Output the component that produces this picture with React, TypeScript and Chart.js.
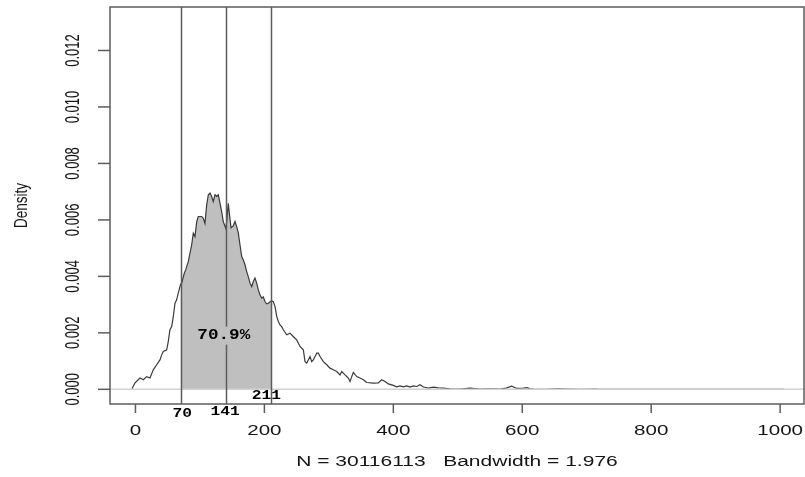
import { useEffect, useRef } from 'react';
import { Chart, registerables } from 'chart.js';

Chart.register(...registerables);

// Kernel density estimate (value -> density)
const DENSITY_X = [
  -6, -5, -1, 7, 12.1, 17.4, 22.5, 27.6, 32.9, 38, 40.7,
  43.1, 48.4, 50.9, 53.5, 56.2, 58.7, 61.3, 63.9, 66.4, 70,
  71.7, 75.7, 77.9, 81.9, 87.2, 89.7, 92.3, 95, 97.4, 102.7,
  105.2, 107.8, 110.5, 113, 115.6, 118.2, 120.7, 123.4, 126, 128.5,
  131.1, 133.7, 136.2, 140, 141.5, 144, 145.9, 148.2, 151.7, 154.4,
  157, 159.5, 162.1, 164.8, 167.3, 169.9, 172.5, 175, 177.7, 180.3,
  182.8, 185.4, 188.1, 190.5, 193.2, 195.8, 198.3, 200.9, 203.6, 206.1,
  208.7, 211, 213.8, 216.5, 219.1, 221.6, 224.2, 226.8, 229.3, 234.6,
  239.7, 244.8, 250.1, 255.2, 260.4, 263, 265.7, 270.8, 273.4, 275.9,
  278.5, 281.2, 283.6, 286.3, 291.4, 296.7, 301.8, 306.9, 312.2, 317.3,
  319.9, 325.1, 330.2, 332.8, 337.9, 343.2, 348.3, 353.5, 358.7, 369,
  376.7, 382, 387.1, 392.2, 400, 405.3, 410.4, 415.5, 420.8, 425.9,
  431.1, 436.3, 441.4, 446.6, 454.3, 462.1, 469.8, 477.6, 488, 503.5,
  519, 534.5, 550, 565.5, 574.9, 583.7, 591.5, 601.7, 607.5, 612.1,
  619.9, 635.4, 653.5, 658.7, 669, 689.7, 713, 720.7, 1006,
];
const DENSITY_Y = [
  0, 0.00004, 0.00022, 0.0004, 0.00034, 0.00045, 0.0004, 0.00069, 0.00087, 0.00104, 0.00122,
  0.00134, 0.0014, 0.00169, 0.00211, 0.00222, 0.00258, 0.00305, 0.00317, 0.00341, 0.00372,
  0.00376, 0.00411, 0.00423, 0.00452, 0.00512, 0.00553, 0.00541, 0.00594, 0.00612, 0.00612,
  0.00606, 0.00588, 0.00653, 0.00689, 0.00695, 0.00683, 0.00665, 0.00689, 0.00683, 0.00689,
  0.00659, 0.00629, 0.00594, 0.00571, 0.00594, 0.00659, 0.00618, 0.00572, 0.00579, 0.00594,
  0.00576, 0.00554, 0.00512, 0.0047, 0.00458, 0.00441, 0.00417, 0.00399, 0.00376, 0.00364,
  0.00382, 0.00394, 0.00376, 0.00352, 0.00335, 0.00323, 0.00327, 0.00311, 0.00303, 0.00305,
  0.0031, 0.00313, 0.0031, 0.00293, 0.00258, 0.0024, 0.00228, 0.00222, 0.00211, 0.00193,
  0.00199, 0.00187, 0.00175, 0.00152, 0.0014, 0.00098, 0.00093, 0.00116, 0.00098, 0.00104,
  0.00116, 0.00128, 0.00128, 0.00116, 0.00098, 0.00087, 0.00075, 0.00069, 0.00063, 0.00051,
  0.00063, 0.00051, 0.0004, 0.00028, 0.0006, 0.00045, 0.0004, 0.00034, 0.00024, 0.00022,
  0.00023, 0.00034, 0.00028, 0.00019, 0.00014, 0.00009, 0.00012, 0.00009, 0.00012, 0.00008,
  0.00012, 0.0001, 0.00016, 0.00008, 0.00004, 0.00008, 0.00005, 0.00004, 0.00002, 0.00001,
  0.00004, 0.00001, 0.00002, 0.00001, 0.00004, 0.00011, 0.00003, 0.00004, 0.00006, 0.00002,
  0, 0, 0.00002, 0.00002, 0.00001, 0, 0.00001, 0, 0,
];

// Shaded interval and its marker lines
const SHADE_FROM = 70;
const SHADE_TO = 211;
const MARKERS = [70, 141, 211];
const MARKER_LABELS = ['70', '141', '211'];
const SHADE_LABEL = '70.9%';

// Axes
const X_TICKS = [0, 200, 400, 600, 800, 1000];
const X_TICK_LABELS = ['0', '200', '400', '600', '800', '1000'];
const Y_TICKS = [0, 0.002, 0.004, 0.006, 0.008, 0.01, 0.012];
const Y_TICK_LABELS = ['0.000', '0.002', '0.004', '0.006', '0.008', '0.010', '0.012'];
const X_TITLE = 'N = 30116113   Bandwidth = 1.976';
const Y_TITLE = 'Density';
const X_RANGE = [-39.5, 1037];
const Y_RANGE = [-0.00052, 0.01354];

const LINE = '#5c5c5c';
const TEXT = '#151515';
const SHADE = '#bfbfbf';

function drawText(
  ctx: CanvasRenderingContext2D,
  s: string,
  x: number,
  y: number,
  font: string,
  sx: number,
  rotate = false,
  color = TEXT,
) {
  ctx.save();
  ctx.translate(x, y);
  ctx.scale(sx, 1);
  if (rotate) ctx.rotate(-Math.PI / 2);
  ctx.font = font;
  ctx.fillStyle = color;
  ctx.textAlign = 'center';
  ctx.textBaseline = 'middle';
  ctx.fillText(s, 0, 0);
  ctx.restore();
}

const frame = {
  id: 'densityFrame',
  afterDatasetsDraw(chart: any) {
    const { ctx, chartArea: a, scales } = chart;
    const xs = scales.x;
    const ys = scales.y;
    const y0 = ys.getPixelForValue(0);

    ctx.save();
    // baseline at zero
    ctx.strokeStyle = '#d2d2d2';
    ctx.lineWidth = 1.5;
    ctx.beginPath();
    ctx.moveTo(a.left, y0);
    ctx.lineTo(a.right, y0);
    ctx.stroke();

    // marker lines
    ctx.strokeStyle = LINE;
    ctx.lineWidth = 1.5;
    for (const m of MARKERS) {
      const px = Math.round(xs.getPixelForValue(m)) + 0.5;
      ctx.beginPath();
      ctx.moveTo(px, a.top);
      ctx.lineTo(px, a.bottom);
      ctx.stroke();
    }

    // percentage label over the shaded area
    const lx = xs.getPixelForValue(137);
    const ly = ys.getPixelForValue(0.0019);
    ctx.fillStyle = SHADE;
    ctx.fillRect(lx - 26, ly - 9, 52, 18);
    drawText(ctx, SHADE_LABEL, lx, ly, 'bold 14px "Liberation Mono"', 1.26, false, '#000');

    // plot box
    ctx.strokeStyle = LINE;
    ctx.lineWidth = 1.5;
    ctx.strokeRect(a.left, a.top, a.right - a.left, a.bottom - a.top);

    // y axis
    Y_TICKS.forEach((v, i) => {
      const py = ys.getPixelForValue(v);
      ctx.beginPath();
      ctx.moveTo(a.left, py);
      ctx.lineTo(a.left - 12, py);
      ctx.stroke();
      drawText(ctx, Y_TICK_LABELS[i], 73, py, '13px "Liberation Sans"', 1.55, true);
    });
    drawText(ctx, Y_TITLE, 22, (a.top + a.bottom) / 2, '13.5px "Liberation Sans"', 1.3, true);

    // x axis
    X_TICKS.forEach((v, i) => {
      const px = xs.getPixelForValue(v);
      ctx.beginPath();
      ctx.moveTo(px, a.bottom);
      ctx.lineTo(px, a.bottom + 9);
      ctx.stroke();
      drawText(ctx, X_TICK_LABELS[i], px, 431, '14px "Liberation Sans"', 1.47);
    });
    drawText(ctx, X_TITLE, (a.left + a.right) / 2, 462, '14px "Liberation Sans"', 1.5);

    // marker value labels
    const offsets = [
      [1.6, 414],
      [-1.3, 412],
      [-5, 396],
    ];
    MARKERS.forEach((m, i) => {
      const px = xs.getPixelForValue(m) + offsets[i][0];
      drawText(ctx, MARKER_LABELS[i], px, offsets[i][1], 'bold 13px "Liberation Mono"', 1.25, false, '#000');
    });
    ctx.restore();
  },
};

export default function App() {
  const ref = useRef<HTMLCanvasElement>(null);

  useEffect(() => {
    const canvas = ref.current;
    if (!canvas) return;
    const points = DENSITY_X.map((x, i) => ({ x, y: DENSITY_Y[i] }));
    const shaded = points.filter((p) => p.x >= SHADE_FROM && p.x <= SHADE_TO);

    const chart = new Chart(canvas, {
      type: 'line',
      data: {
        datasets: [
          {
            data: points,
            borderColor: '#3a3a3a',
            borderWidth: 1.2,
            pointRadius: 0,
            fill: false,
            tension: 0,
            order: 0,
          },
          {
            data: shaded,
            borderColor: 'rgba(0,0,0,0)',
            borderWidth: 1,
            backgroundColor: SHADE,
            pointRadius: 0,
            fill: 'origin',
            tension: 0,
            order: 1,
          },
        ],
      },
      options: {
        responsive: false,
        animation: false,
        events: [],
        layout: { padding: { left: 110, right: 1, top: 7, bottom: 73 } },
        plugins: { legend: { display: false }, tooltip: { enabled: false } },
        scales: {
          x: { type: 'linear', min: X_RANGE[0], max: X_RANGE[1], display: false },
          y: { type: 'linear', min: Y_RANGE[0], max: Y_RANGE[1], display: false },
        },
      },
      plugins: [frame],
    });
    return () => chart.destroy();
  }, []);

  return (
    <canvas
      ref={ref}
      width={805}
      height={477}
      style={{ position: 'fixed', left: 0, top: 0, display: 'block', background: '#fff' }}
    />
  );
}
